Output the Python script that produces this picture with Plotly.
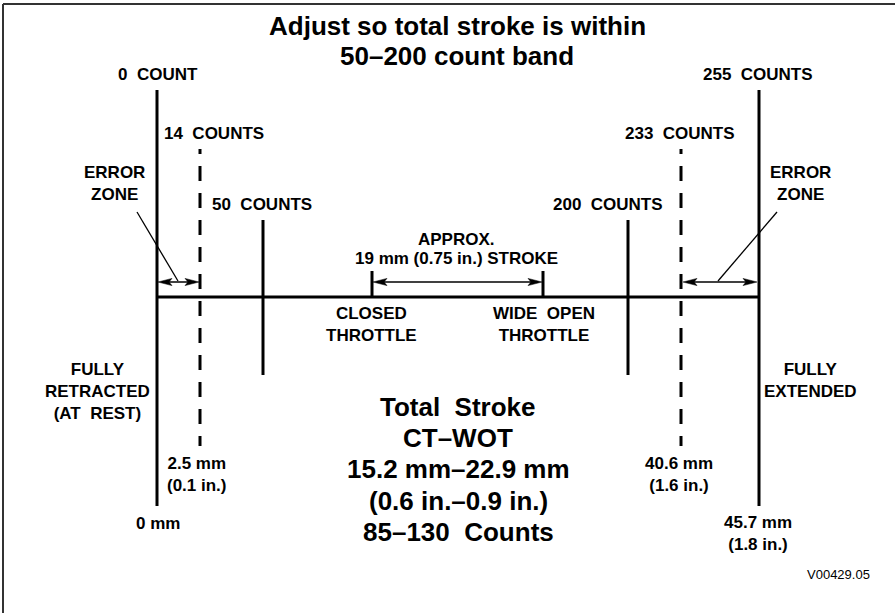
import plotly.graph_objects as go

# ---------------- data ----------------
count_values = [0, 14, 50, 200, 233, 255]
count_labels = ["0\u00a0 COUNT", "14\u00a0 COUNTS", "50\u00a0 COUNTS",
                "200\u00a0 COUNTS", "233\u00a0 COUNTS", "255\u00a0 COUNTS"]
mm_labels = ["0 mm", "2.5 mm<br>(0.1 in.)", "", "", "40.6 mm<br>(1.6 in.)", "45.7 mm<br>(1.8 in.)"]
line_kind = ["limit", "error", "band", "band", "error", "limit"]
throttle_labels = ["CLOSED<br>THROTTLE", "WIDE\u00a0 OPEN<br>THROTTLE"]
stroke_text = ["APPROX.", "19 mm (0.75 in.) STROKE"]
title_lines = ["Adjust so total stroke is within", "50\u2013200 count band"]
total_lines = ["Total\u00a0 Stroke", "CT\u2013WOT", "15.2 mm\u201322.9 mm",
               "(0.6 in.\u20130.9 in.)", "85\u2013130\u00a0 Counts"]
end_labels = ["FULLY<br>RETRACTED<br>(AT\u00a0 REST)", "FULLY<br>EXTENDED"]
zone_label = "ERROR<br>ZONE"
figure_id = "V00429.05"

# schematic placement of each count mark (diagram is not to scale)
mark_x = [157, 200, 263, 628, 681, 759]
throttle_x = [372, 543]

FONT = "Liberation Sans, Arial, sans-serif"
BLACK = "#000000"

fig = go.Figure()


def vline(x, y0, y1, width=3, dash="solid"):
    fig.add_trace(go.Scatter(x=[x, x], y=[y0, y1], mode="lines",
                             line=dict(color=BLACK, width=width, dash=dash),
                             hoverinfo="skip"))


def seg(x0, y0, x1, y1, width=1.3, color=BLACK):
    fig.add_trace(go.Scatter(x=[x0, x1], y=[y0, y1], mode="lines",
                             line=dict(color=color, width=width), hoverinfo="skip"))


def head(tx, ty, direction, length=14, half=3.6, notch=3):
    # direction +1 points right, -1 points left
    bx = tx - direction * length
    nx = bx + direction * notch
    fig.add_trace(go.Scatter(x=[tx, bx, nx, bx, tx], y=[ty, ty - half, ty, ty + half, ty],
                             mode="lines", fill="toself", fillcolor=BLACK,
                             line=dict(color=BLACK, width=0.5), hoverinfo="skip"))


def darrow(x0, x1, y):
    seg(x0 + 4, y, x1 - 4, y, width=1.4)
    head(x0, y, -1)
    head(x1, y, +1)


dash_pattern = "5px,12px," + ",".join(["15px,12px"] * 12)

# vertical marks
for x, kind in zip(mark_x, line_kind):
    if kind == "limit":
        vline(x, 90, 506)
    elif kind == "error":
        vline(x, 149, 446, dash=dash_pattern)
    else:
        vline(x, 220, 375)

# main horizontal line
fig.add_trace(go.Scatter(x=[mark_x[0], mark_x[-1]], y=[297, 297], mode="lines",
                         line=dict(color=BLACK, width=3), hoverinfo="skip"))

# throttle ticks
for x in throttle_x:
    vline(x, 271, 297)

# arrows
darrow(throttle_x[0] + 1, throttle_x[1] - 1, 282)
darrow(mark_x[0] + 1, mark_x[1] - 1, 282)
darrow(mark_x[4] + 2, mark_x[5] - 2, 282)

# leader lines for error zones
seg(137, 212, 178, 281)
seg(777, 212, 718, 281)

# border (top and left)
seg(3, 4, 895, 4, width=2, color="#333333")
seg(3, 4, 3, 613, width=2, color="#333333")

ann = []


def txt(x, y, s, size=17, bold=True, xanchor="center"):
    ann.append(dict(x=x, y=y, xref="x", yref="y", text=(f"<b>{s}</b>" if bold else s),
                    showarrow=False, xanchor=xanchor, yanchor="middle", align="center",
                    font=dict(family=FONT, size=size, color=BLACK)))


# title
txt(457, 26, title_lines[0], size=26)
txt(457, 56, title_lines[1], size=26)

# count labels
count_label_pos = [(158, 74), (214, 133), (262, 204), (608, 204), (680, 133), (758, 74)]
for (x, y), s in zip(count_label_pos, count_labels):
    txt(x, y, s)

# error zones
txt(114, 183, zone_label)
txt(800, 183, zone_label)

# stroke text
txt(456, 239, stroke_text[0])
txt(456, 258, stroke_text[1])

# throttle labels
for x, s in zip(throttle_x, throttle_labels):
    txt(x - 1 if x < 400 else x + 1, 324, s)

# end labels
txt(97, 391, end_labels[0])
txt(810, 380, end_labels[1])

# mm labels
mm_pos = [(158, 523), (197, 474), None, None, (679, 474), (758, 533)]
for p, s in zip(mm_pos, mm_labels):
    if p and s:
        txt(p[0], p[1], s)

# total stroke block
for i, s in enumerate(total_lines):
    txt(458, 407 + i * 31.2, s, size=26)

# figure id
txt(838, 574, figure_id, size=13, bold=False)

fig.update_layout(
    width=895, height=613,
    margin=dict(l=0, r=0, t=0, b=0),
    paper_bgcolor="white", plot_bgcolor="white",
    showlegend=False,
    xaxis=dict(range=[0, 895], visible=False, fixedrange=True),
    yaxis=dict(range=[613, 0], visible=False, fixedrange=True),
    annotations=ann,
)

fig.write_html("out.html", config={"displayModeBar": False},
               post_script="document.body.style.margin='0px';document.body.style.overflow='hidden';")
